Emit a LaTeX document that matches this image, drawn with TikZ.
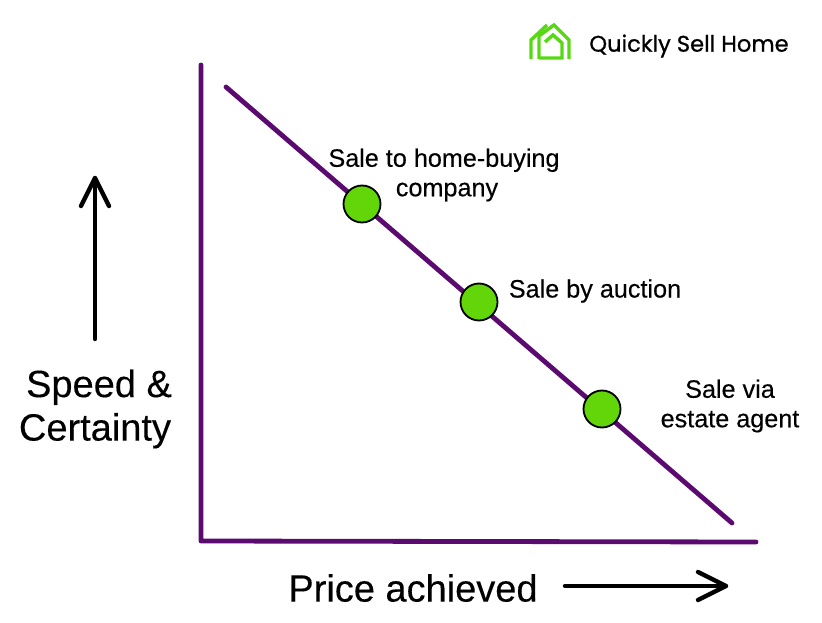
\documentclass[tikz,border=0pt]{standalone}
\usepackage{fontspec}
\setmainfont[FakeBold=0.25]{Liberation Sans}
\newfontfamily\logofont[FakeBold=0.8]{Poppins}
\definecolor{axispurple}{RGB}{91,10,112}
\definecolor{dotgreen}{RGB}{98,214,8}
\definecolor{logogreen}{RGB}{88,216,20}
\begin{document}
\begin{tikzpicture}[x=1pt,y=-1pt]
\tikzstyle{every node}=[align=center,inner sep=0pt];
\tikzstyle{axis}=[draw=axispurple,line width=4.8pt,line cap=round,line join=round];
\tikzstyle{dot}=[draw=black,fill=dotgreen,line width=1.8pt,shape=circle,minimum size=37pt];
\tikzstyle{dir}=[draw=black,line width=4.4pt,line cap=round,line join=round];
\tikzstyle{label}=[font=\fontsize{25.2}{29.5}\selectfont];
\tikzstyle{biglabel}=[font=\fontsize{38}{43.5}\selectfont];
\tikzstyle{logo}=[draw=logogreen,line width=3.4pt,miter limit=10];
\useasboundingbox (0,0) rectangle (822,623);
% axes
\coordinate (top) at (201,65);
\coordinate (origin) at (201,541);
\coordinate (right) at (756,542);
\draw[axis] (top) -- (origin) -- (right);
% trade-off line
\coordinate (start) at (226,87);
\coordinate (end) at (732,523);
\draw[axis] (start) -- (end);
\node[dot] (company) at (362,204) {};
\node[dot] (auction) at (479,302) {};
\node[dot] (agent) at (602,409) {};
\node[label] (companytext) at (444,175) {Sale to home-buying\\\hspace{6pt}company};
\node[label] (auctiontext) at (595,291) {Sale by auction};
\node[label] (agenttext) at (730,406) {Sale via\\estate agent};
% direction arrows
\coordinate (upfrom) at (95,339);
\coordinate (upto) at (95,178);
\coordinate (uptipl) at (81,206);
\coordinate (uptipr) at (109,206);
\draw[dir] (upfrom) -- (upto);
\draw[dir] (uptipl) -- (upto) -- (uptipr);
\coordinate (rightfrom) at (565,586);
\coordinate (rightto) at (726,586);
\coordinate (righttipu) at (698,572);
\coordinate (righttipd) at (698,600);
\draw[dir] (rightfrom) -- (rightto);
\draw[dir] (righttipu) -- (rightto) -- (righttipd);
\node[biglabel] (speed) at (95,409) {\hspace{8pt}Speed \&\\Certainty};
\node[biglabel] (price) at (413,588) {Price achieved};
% logo
\draw[logo] (531,59) -- (531,40) -- (547,25);
\draw[logo] (539,59) -- (539,36) -- (554,25) -- (569,40) -- (569,59);
\draw[logo] (539,58) -- (562,58) -- (562,43) -- (553,35) -- (545,42);
\node[font=\logofont\fontsize{22.6}{26}\selectfont] (brand) at (689,46) {Quickly Sell Home};
\end{tikzpicture}
\end{document}
